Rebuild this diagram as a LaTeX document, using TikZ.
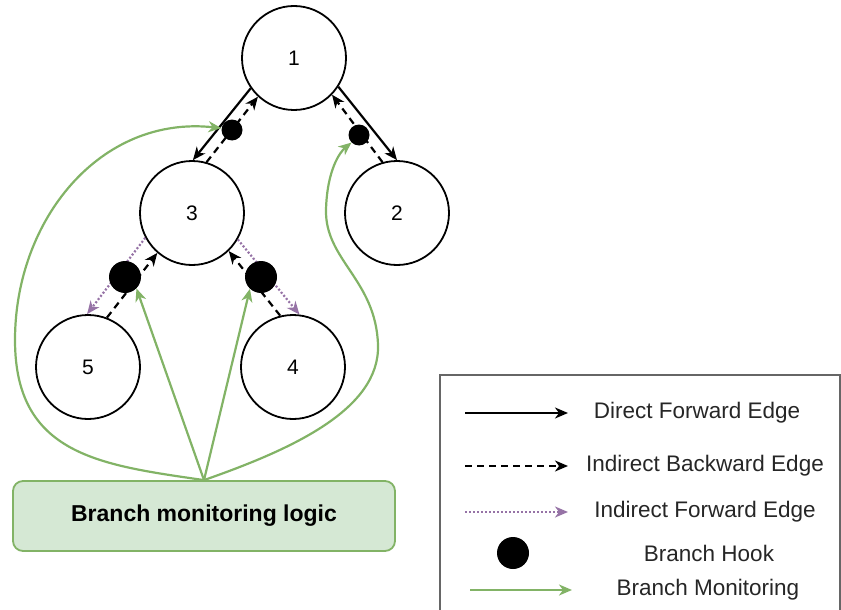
\documentclass[tikz,border=0pt]{standalone}
\usepackage{fontspec}
\setmainfont{Liberation Sans}
\usetikzlibrary{arrows.meta}
\definecolor{monGreen}{HTML}{82B366}
\definecolor{monFill}{HTML}{D5E8D4}
\definecolor{fwdPurple}{HTML}{9673A6}
\definecolor{legGray}{HTML}{666666}
\tikzset{
  vert/.style={circle, draw, line width=1.8pt, minimum size=104pt, inner sep=0pt,
    font=\fontsize{21}{24}\selectfont},
  hook/.style={circle, fill=black, inner sep=0pt, minimum size=21pt},
  bighook/.style={hook, minimum size=32pt},
  edgetip/.style={-{Stealth[length=13pt,width=11pt,inset=4pt]}, line width=2.2pt},
  direct/.style={edgetip},
  backward/.style={edgetip, dash pattern=on 7pt off 5pt},
  forward/.style={edgetip, fwdPurple, dash pattern=on 2pt off 2pt},
  monitor/.style={edgetip, monGreen},
  logicbox/.style={draw=monGreen, fill=monFill, line width=1.8pt, rounded corners=10pt,
    minimum width=382pt, minimum height=70pt, font=\fontsize{23}{27}\selectfont\bfseries},
  legtext/.style={font=\fontsize{22.5}{27}\selectfont, text=black!85},
}
\begin{document}
\begin{tikzpicture}[x=1pt, y=-1pt]
      \useasboundingbox (0,0) rectangle (841,610);
      \draw
        (294,58) node[vert] (n1){1}
        (397,213) node[vert] (n2){2}
        (192,213) node[vert] (n3){3}
        (293,367) node[vert] (n4){4}
        (88,367) node[vert] (n5){5};
      \draw[direct] (n1.215) to (n3.89);
      \draw[backward] (n3.74) to (n1.227);
      \draw[direct] (n1.327) to (n2.90);
      \draw[backward] (n2.106) to (n1.316);
      \draw[forward] (n3.208) to (n5.91);
      \draw[backward] (n5.69) to (n3.229);
      \draw[forward] (n3.330) to (n4.83);
      \draw[backward] (n4.104) to (n3.314);
      \node[hook] (h13) at (232,130) {};
      \node[hook] (h12) at (359,135) {};
      \node[bighook] (h35) at (125,277) {};
      \node[bighook] (h34) at (261,277) {};
      \node[logicbox] (mon) at (204,516) {Branch monitoring logic};
      \begin{scope}[monitor]
        \draw (mon.north) to (h35.-45);
        \draw (mon.north) to (h34.-133);
        \draw (mon.north) .. controls (100,465) and (15,455) .. (15,340)
          .. controls (15,220) and (100,115) .. (h13.170);
        \draw (mon.north) .. controls (290,450) and (380,410) .. (378,345)
          .. controls (376,280) and (325,260) .. (326,210)
          .. controls (327,170) and (340,152) .. (h12.225);
      \end{scope}
      \draw[legGray, line width=1.8pt] (440,375) rectangle (840,620);
      \coordinate (la1) at (465,413);
      \coordinate (lb1) at (568,413);
      \coordinate (la2) at (465,466);
      \coordinate (lb2) at (568,466);
      \coordinate (la3) at (465,512);
      \coordinate (lb3) at (568,512);
      \coordinate (la5) at (470,590);
      \coordinate (lb5) at (572,590);
      \draw[direct] (la1) to (lb1);
      \draw[backward] (la2) to (lb2);
      \draw[forward] (la3) to (lb3);
      \node[bighook] (lhook) at (513,553) {};
      \draw[monitor] (la5) to (lb5);
      \node[legtext] (t1) at (697,413) {Direct Forward Edge};
      \node[legtext] (t2) at (705,466) {Indirect Backward Edge};
      \node[legtext] (t3) at (705,512) {Indirect Forward Edge};
      \node[legtext] (t4) at (709,553) {Branch Hook};
      \node[legtext] (t5) at (708,590) {Branch Monitoring};
    \end{tikzpicture}
\end{document}
